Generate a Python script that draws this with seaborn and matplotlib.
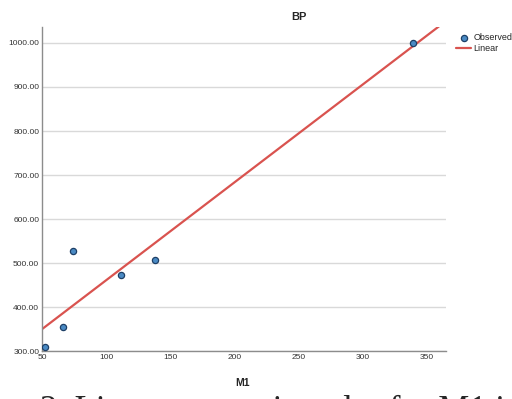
import numpy as np
import pandas as pd
import seaborn as sns
import matplotlib.pyplot as plt

m1 = [52, 66, 74, 112, 138, 339]
bp = [309, 354, 527, 473, 506, 999]
y_ticks = [300, 400, 500, 600, 700, 800, 900, 1000]
x_ticks = [50, 100, 150, 200, 250, 300, 350]

df = pd.DataFrame({'M1': m1, 'BP': bp})

sns.set_style("white")
plt.rcParams['font.family'] = ['Liberation Sans', 'DejaVu Sans']

fig = plt.figure(figsize=(5.12, 3.99), dpi=100)
ax = fig.add_axes([0.082, 0.12, 0.789, 0.812])
ax.set_xlim(50, 365)
ax.set_ylim(300, 1036)

for y in y_ticks:
    ax.axhline(y, color='#d9d9d9', lw=1.0, zorder=0)

sns.regplot(data=df, x='M1', y='BP', ax=ax, ci=None, truncate=False,
            scatter=False, line_kws={'color': '#d9534f', 'lw': 1.6, 'zorder': 2},
            label='Linear')
sns.scatterplot(data=df, x='M1', y='BP', ax=ax, color='#4a8ac4', edgecolor='#1d3f66',
                linewidth=0.9, s=20, zorder=3, label='Observed')
ax.set_xlim(50, 365)
ax.set_ylim(300, 1036)

ax.set_xticks(x_ticks)
ax.set_yticks(y_ticks)
ax.set_yticklabels([f"{v:.2f}" for v in y_ticks])
ax.tick_params(axis='both', length=0, labelsize=6, colors='#333333', pad=2)
ax.set_xlabel('')
ax.set_ylabel('')
for s in ['top', 'right']:
    ax.spines[s].set_visible(False)
for s in ['left', 'bottom']:
    ax.spines[s].set_color('#8c8c8c')
    ax.spines[s].set_linewidth(1.0)

h, l = ax.get_legend_handles_labels()
order = [l.index('Observed'), l.index('Linear')]
ax.legend([h[i] for i in order], [l[i] for i in order], loc='upper left',
          bbox_to_anchor=(1.01, 1.0), frameon=False, fontsize=6.5,
          handlelength=1.6, handletextpad=0.3, labelspacing=0.2, borderaxespad=0.3)

fig.text(299 / 512, 1 - 17 / 399, 'BP', ha='center', va='center', fontsize=8, fontweight='bold')
fig.text(243 / 512, 1 - 383 / 399, 'M1', ha='center', va='center', fontsize=7.5, fontweight='bold')
# caption below the chart, cut by the bottom edge as in the source image
fig.text(40 / 512, 1 - 394 / 399, '2. Linear regression plot for M1 in the study', ha='left',
         va='top', fontsize=25, family=['Liberation Serif', 'DejaVu Serif'])

fig.savefig('out.png', dpi=100)
